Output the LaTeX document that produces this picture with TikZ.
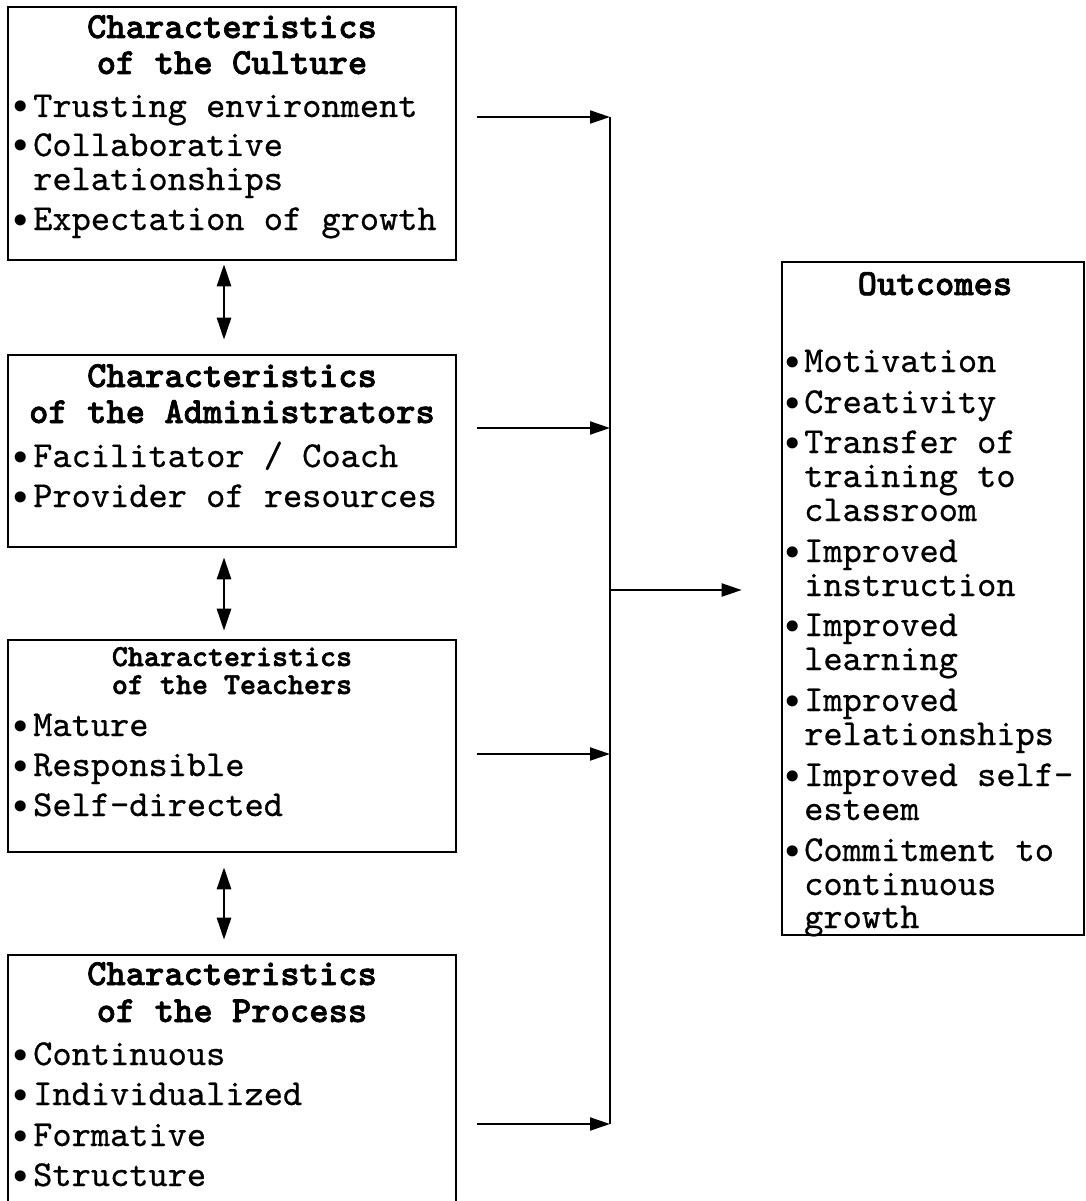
\documentclass[tikz,border=0pt]{standalone}
\usepackage{fontspec}
\newfontfamily\bodyfont{lmmono10-regular}[Extension=.otf, FakeBold=0.6]
\newfontfamily\ttlfont{lmmonolt10-bold}[Extension=.otf, FakeBold=1.8]
\newfontfamily\bulfont{DejaVu Sans}
\usetikzlibrary{arrows.meta}
\newcommand{\bul}{\llap{\makebox[0pt][c]{\raisebox{-4pt}{\bulfont\fontsize{38}{40}\selectfont •}}\hspace{12pt}}}
\tikzset{
  box/.style={draw, line width=2.6pt, inner sep=0pt},
  txt/.style={anchor=base west, inner sep=0pt, font=\bodyfont\fontsize{36.6}{38}\selectfont},
  ttl/.style={anchor=base, inner sep=0pt, font=\ttlfont\fontsize{36.8}{38}\selectfont},
  ttlsm/.style={anchor=base, inner sep=0pt, font=\ttlfont\fontsize{30.5}{32}\selectfont},
  arr/.style={line width=2pt, -{Triangle[length=20pt,width=13pt]}},
  darr/.style={line width=2.6pt, {Triangle[length=22pt,width=14pt]}-{Triangle[length=22pt,width=14pt]}},
  bus/.style={line width=2.6pt}
}
\begin{document}
\begin{tikzpicture}[x=1pt,y=-1pt]
\useasboundingbox (0,0) rectangle (1085,1201);
\fill[white] (0,0) rectangle (1085,1201);
\clip (0,0) rectangle (1085,1201);

% boxes
\node[box, minimum width=448pt, minimum height=253pt] (b1) at (232,133.5) {};
\node[box, minimum width=448pt, minimum height=192pt] (b2) at (232,451) {};
\node[box, minimum width=448pt, minimum height=212pt] (b3) at (232,746) {};
\node[box, minimum width=448pt, minimum height=270pt] (b4) at (232,1090) {};
\node[box, minimum width=302pt, minimum height=673pt] (out) at (933,598.5) {};

% box 1
\node[ttl] (b1t1) at (232,38) {Characteristics};
\node[ttl] (b1t2) at (232,74) {of the Culture};
\node[txt] (b1l1) at (33,117) {\bul Trusting environment};
\node[txt] (b1l2) at (33,156) {\bul Collaborative};
\node[txt] (b1l3) at (33,190) {relationships};
\node[txt] (b1l4) at (33,230) {\bul Expectation of growth};

% box 2
\node[ttl] (b2t1) at (232,387) {Characteristics};
\node[ttl] (b2t2) at (232,423) {of the Administrators};
\node[txt] (b2l1) at (33,467) {\bul Facilitator / Coach};
\node[txt] (b2l2) at (33,507) {\bul Provider of resources};

% box 3
\node[ttlsm] (b3t1) at (232,666) {Characteristics};
\node[ttlsm] (b3t2) at (232,694) {of the Teachers};
\node[txt] (b3l1) at (33,736) {\bul Mature};
\node[txt] (b3l2) at (33,776) {\bul Responsible};
\node[txt] (b3l3) at (33,816) {\bul Self-directed};

% box 4
\node[ttl] (b4t1) at (232,985) {Characteristics};
\node[ttl] (b4t2) at (232,1022) {of the Process};
\node[txt] (b4l1) at (33,1065) {\bul Continuous};
\node[txt] (b4l2) at (33,1105) {\bul Individualized};
\node[txt] (b4l3) at (33,1146) {\bul Formative};
\node[txt] (b4l4) at (33,1186) {\bul Structure};

% outcomes
\node[ttl] (ot) at (935,295) {Outcomes};
\node[txt] (o1) at (804,372) {\bul Motivation};
\node[txt] (o2) at (804,413) {\bul Creativity};
\node[txt] (o3) at (804,453) {\bul Transfer of};
\node[txt] (o3b) at (804,487) {training to};
\node[txt] (o3c) at (804,521) {classroom};
\node[txt] (o4) at (804,562) {\bul Improved};
\node[txt] (o4b) at (804,596) {instruction};
\node[txt] (o5) at (804,636) {\bul Improved};
\node[txt] (o5b) at (804,670) {learning};
\node[txt] (o6) at (804,711) {\bul Improved};
\node[txt] (o6b) at (804,745) {relationships};
\node[txt] (o7) at (804,786) {\bul Improved self-};
\node[txt] (o7b) at (804,820) {esteem};
\node[txt] (o8) at (804,861) {\bul Commitment to};
\node[txt] (o8b) at (804,895) {continuous};
\node[txt] (o8c) at (804,928) {growth};

% bus coordinates
\coordinate (bus1) at (610,117);
\coordinate (bus2) at (610,428);
\coordinate (bus3) at (610,754);
\coordinate (bus4) at (610,1124);
\coordinate (busm) at (610,590);

% connectors
\draw[bus] (bus1) -- (bus4);
\draw[arr, shorten <=20pt] (b1.east |- bus1) -- (bus1);
\draw[arr, shorten <=20pt] (b2.east |- bus2) -- (bus2);
\draw[arr, shorten <=20pt] (b3.east |- bus3) -- (bus3);
\draw[arr, shorten <=20pt] (b4.east |- bus4) -- (bus4);
\draw[arr, shorten >=39pt] (busm) -- (out.west |- busm);

\draw[darr, shorten <=3pt, shorten >=14pt] ([xshift=-8pt]b1.south) -- ([xshift=-8pt]b2.north);
\draw[darr, shorten <=9pt, shorten >=8pt] ([xshift=-8pt]b2.south) -- ([xshift=-8pt]b3.north);
\draw[darr, shorten <=14pt, shorten >=14pt] ([xshift=-8pt]b3.south) -- ([xshift=-8pt]b4.north);
\end{tikzpicture}
\end{document}
